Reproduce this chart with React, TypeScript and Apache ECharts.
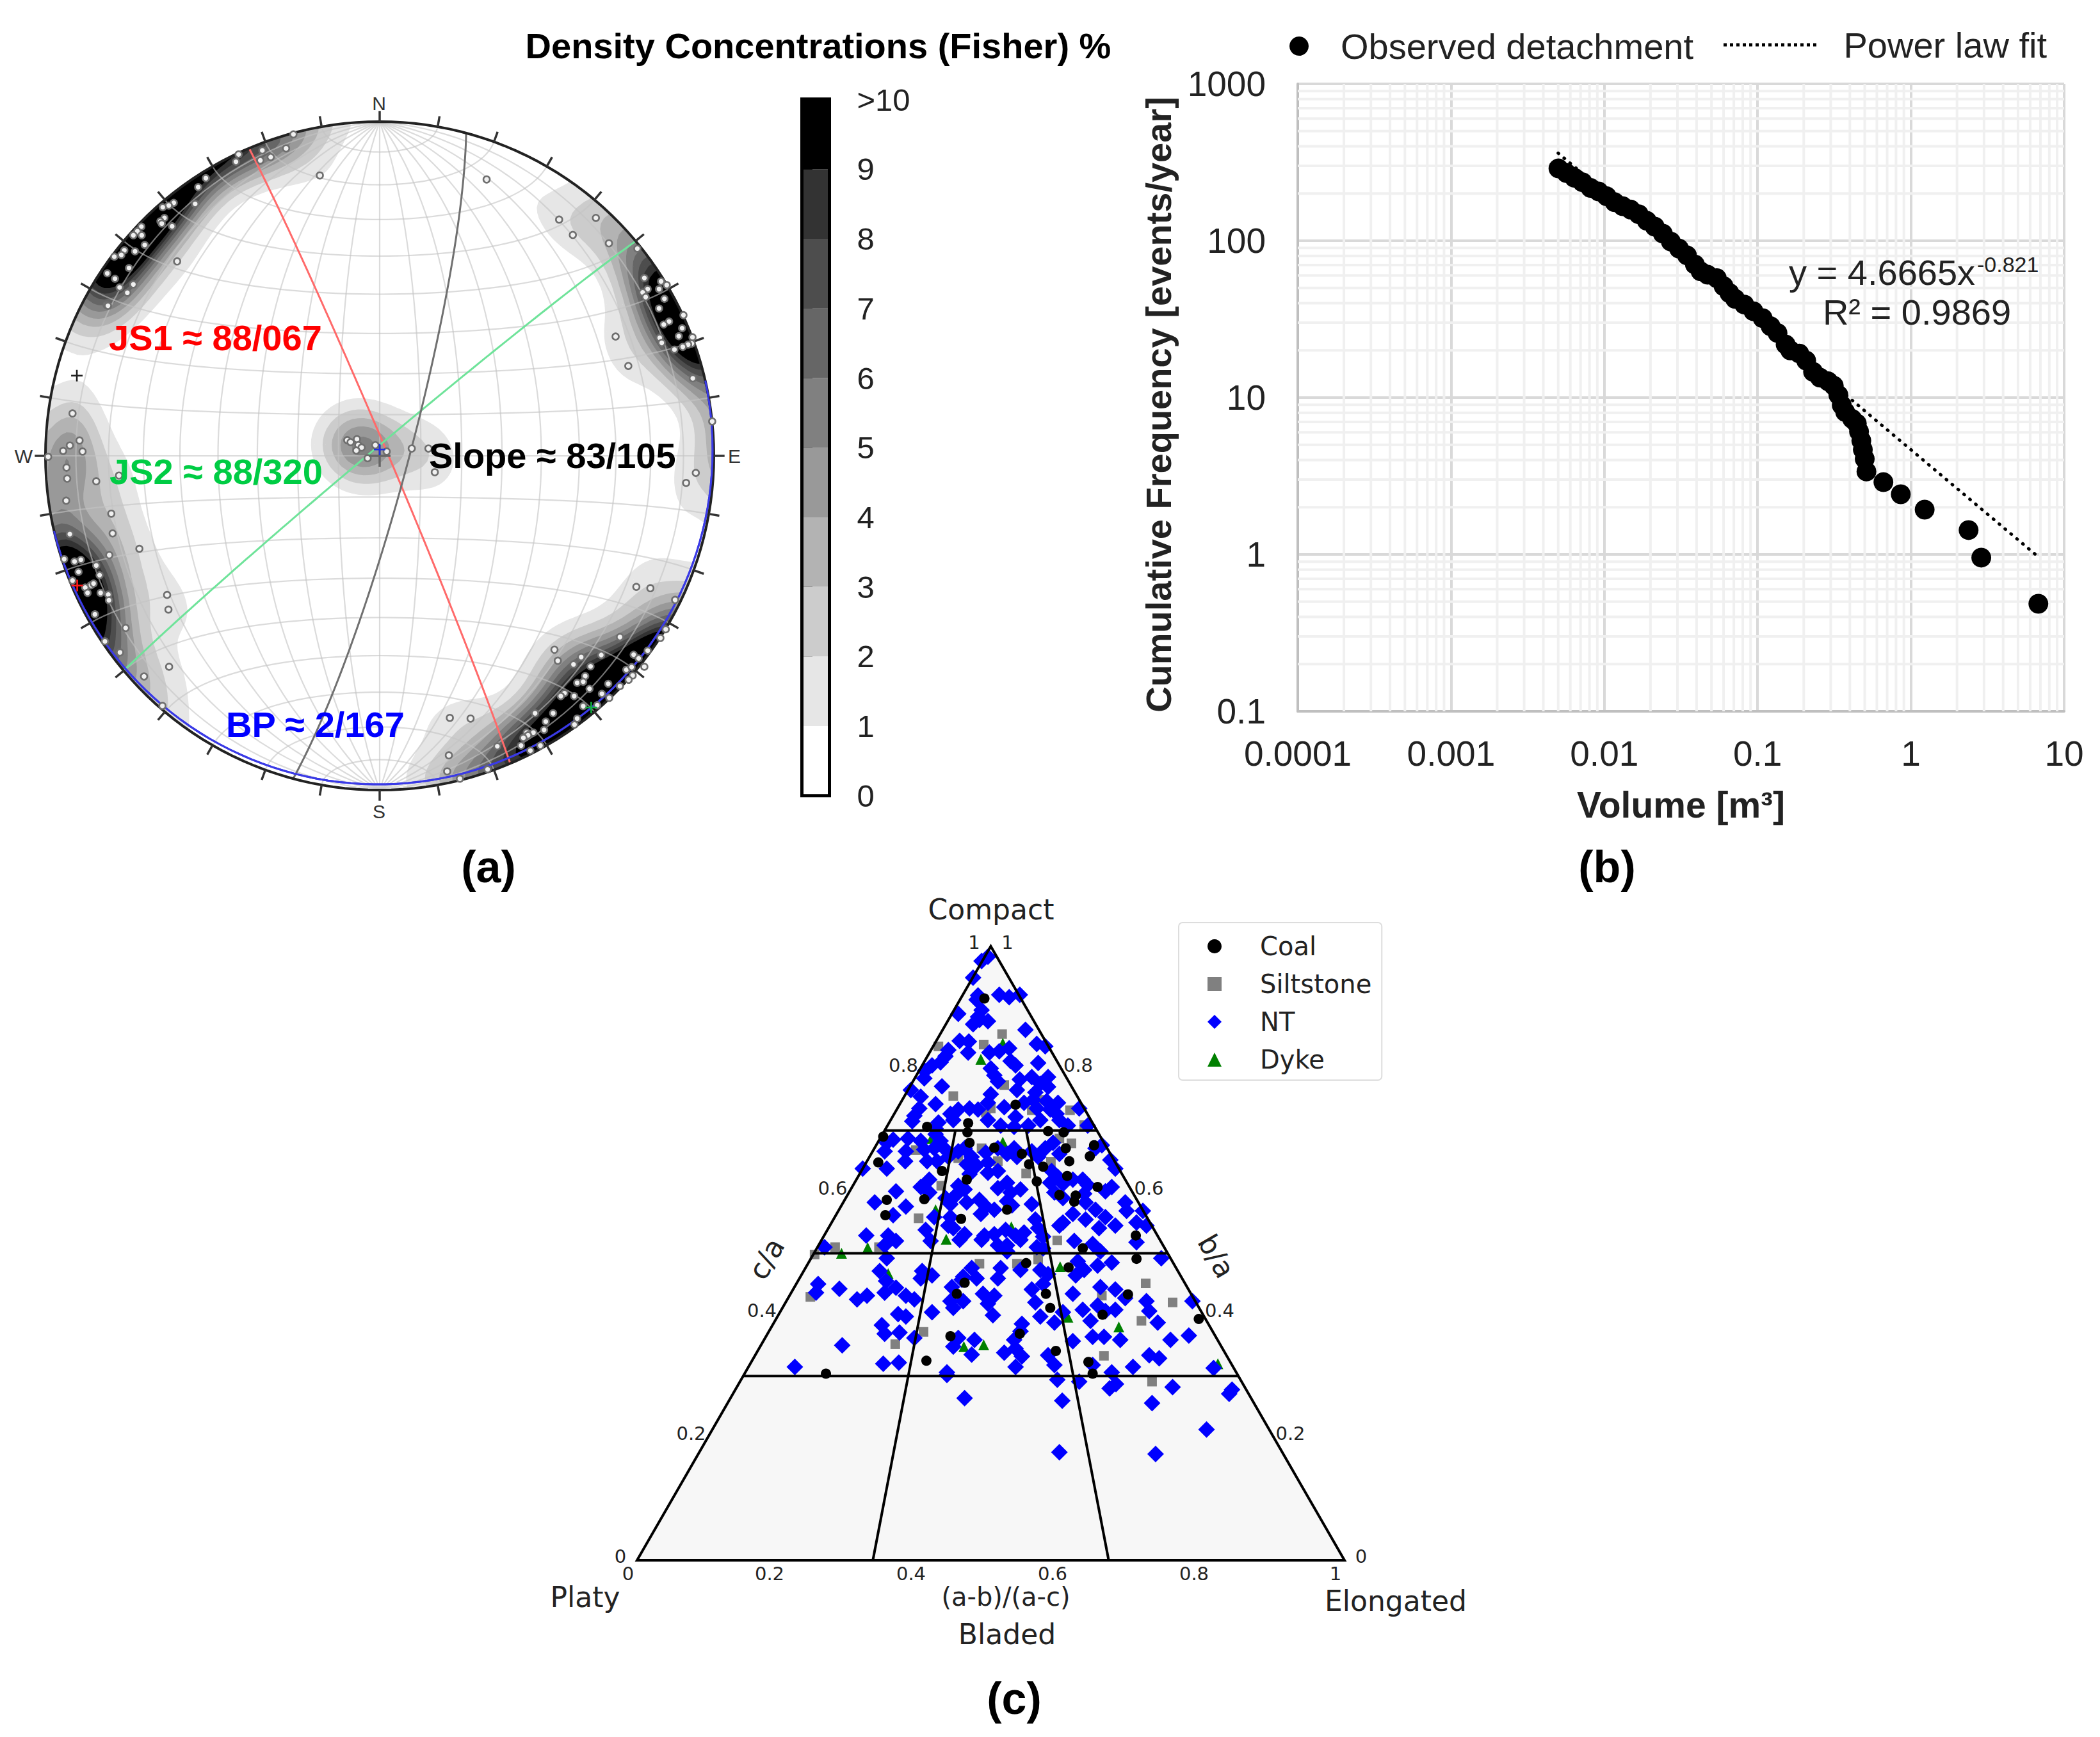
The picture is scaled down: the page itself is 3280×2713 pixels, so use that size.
import React, { useEffect, useRef } from "react";
import * as echarts from "echarts";

// ---------- (a) stereonet data: unit-disc positions of the poles ----------
const polesA: number[][] = [
  [-.258,.962],[-.280,.920],[-.351,.914],[-.326,.894],[-.357,.884],[-.422,.902],[-.430,.880],[-.520,.831],[-.543,.804],[-.552,.754],
  [-.616,.757],[-.631,.749],[-.649,.744],[-.644,.712],[-.656,.702],[-.652,.695],[-.621,.687],[-.713,.686],[-.725,.672],[-.737,.660],
  [-.712,.660],[-.703,.631],[-.732,.612],[-.764,.615],[-.773,.601],[-.794,.596],[-.750,.562],[-.815,.546],[-.792,.530],[-.778,.504],
  [-.737,.513],[-.755,.488],[-.817,.451],[-.813,.449],[-.606,.582],[-.179,.839],
  [-.919,.127],[-.898,.046],[-.927,.031],[-.947,.015],[-.889,.013],[-.992,-.003],[-.937,-.035],[-.935,-.068],[-.848,-.076],[-.780,-.059],
  [-.938,-.134],[-.803,-.173],[-.799,-.232],[-.927,-.234],[-.719,-.278],[-.809,-.297],[-.944,-.309],[-.913,-.316],[-.894,-.311],[-.848,-.328],
  [-.901,-.347],[-.838,-.357],[-.919,-.373],[-.864,-.387],[-.856,-.382],[-.881,-.394],[-.874,-.410],[-.835,-.410],[-.812,-.415],[-.810,-.432],
  [-.852,-.474],[-.636,-.416],[-.632,-.460],[-.760,-.515],[-.777,-.588],[-.822,-.555],[-.630,-.631],[-.705,-.660],[-.650,-.748],
  [-.097,.047],[-.087,.041],[-.068,.050],[-.064,.032],[-.054,.025],[-.070,.016],[-.013,.032],[.021,.013],[-.036,-.007],[.096,.022],[.146,.022],[.165,-.049],
  [.320,.827],[.537,.707],[.647,.712],[.578,.661],[.686,.636],[.771,.620],[.792,.532],[.842,.522],[.859,.511],[.836,.499],[.802,.499],[.787,.489],
  [.796,.475],[.852,.470],[.836,.441],[.909,.421],[.866,.402],[.850,.393],[.905,.382],[.895,.358],[.936,.355],[.838,.353],[.844,.338],[.934,.336],
  [.923,.333],[.907,.326],[.882,.318],[.706,.357],[.744,.269],[.937,.232],[.995,.103],
  [.946,-.051],[.917,-.081],[.768,-.392],[.810,-.396],[.884,-.431],[.719,-.542],[.523,-.580],[.533,-.613],[.603,-.602],[.580,-.624],[.663,-.596],
  [.631,-.630],[.760,-.595],[.775,-.606],[.802,-.583],[.840,-.545],[.856,-.519],[.738,-.640],[.754,-.632],[.757,-.657],[.745,-.670],[.615,-.659],
  [.591,-.679],[.609,-.676],[.684,-.682],[.628,-.697],[.553,-.710],[.542,-.719],[.582,-.719],[.665,-.712],[.687,-.724],[.609,-.749],[.651,-.746],
  [.519,-.770],[.465,-.770],[.591,-.786],[.497,-.795],[.583,-.804],[.492,-.820],[.440,-.828],[.460,-.828],[.444,-.836],[.430,-.844],[.423,-.867],
  [.481,-.867],[.451,-.882],[.352,-.869],[.323,-.938],[.210,-.784],[.272,-.786],[.207,-.896],[.202,-.944],[.240,-.966],[.719,-.689],[.792,-.631],
];
const planeNames = ["JS1", "JS2", "Slope", "BP"];
const planeDips = [88, 88, 83, 2];
const planeDipDirs = [67, 320, 105, 167];
const planeColors = ["#ff6a6a", "#6fe39a", "#707070", "#3a3ae6"];
const netAngles = [10, 20, 30, 40, 50, 60, 70, 80];
const levelColors = ["#e6e6e6", "#cccccc", "#b3b3b3", "#999999", "#808080", "#666666", "#4d4d4d", "#333333", "#000000"];
const levels = [1, 2, 3, 4, 5, 6, 7, 8, 9];
const colorbarBands = [0, 1, 2, 3, 4, 5, 6, 7, 8, 9];
const colorbarFill = ["#ffffff", ...levelColors];
const colorbarLabels = ["0", "1", "2", "3", "4", "5", "6", "7", "8", "9", ">10"];
const planeMarks: [number, number, string][] = [[-.906, .240, "#222222"], [-.905, -.388, "#ff1a1a"], [.633, -.753, "#10b040"], [0, .019, "#2030e0"]];

// ---------- (b) rockfall frequency data ----------
const volumeValues = [.00502,.00566,.00638,.00721,.00813,.00918,.01035,.01167,.01318,.01486,.01678,.01892,.02133,.0241,.0272,.0307,.0346,.0390,.0425,.0472,.0542,.0600,.0655,.0713,.0819,.0940,.1079,.1216,.1349,.1524,.1633,.1871,.2075,.2301,.2553,.2884,.3141,.3365,.354,.373,.414,.444,.459,.475,.486,.500,.513,.662,.859,1.23,2.38,2.88,6.79];
const frequencyValues = [289,270,252,236,217,206,192,176,166,158,147.5,134,123,111,98.7,89.1,80.7,70.5,63.8,60.7,57.7,51.3,46.4,42.6,39.2,35.5,32.1,28.5,25.8,21.8,20.0,19.1,17.2,14.6,13.4,12.7,11.9,10.4,8.95,8.09,7.31,6.84,6.08,5.32,4.66,4.07,3.38,2.89,2.42,1.93,1.43,.955,.485];
const fitLine = [[.005, 362], [6.5, 1.0]];
const xDecades = ["0.0001", "0.001", "0.01", "0.1", "1", "10"];
const yDecades = ["0.1", "1", "10", "100", "1000"];
const minorFactors = [2, 3, 4, 5, 6, 7, 8, 9];

// ---------- (c) ternary shape data: [(a-b)/(a-c), c/a] ----------
const ntPoints: number[][] = [
  [.496,.983],[.487,.976],[.475,.949],[.482,.920],[.512,.921],[.526,.917],[.541,.921],[.480,.913],[.487,.896],[.454,.890],[.482,.885],[.496,.878],[.475,.873],[.484,.880],[.549,.864],
  [.456,.846],[.469,.845],[.565,.841],[.577,.837],[.468,.827],[.440,.831],[.436,.821],[.429,.811],[.417,.806],[.407,.797],[.406,.785],[.526,.834],[.512,.829],[.498,.827],
  [.528,.813],[.535,.806],[.567,.810],[.500,.801],[.505,.790],[.510,.780],[.541,.783],[.558,.787],[.581,.787],[.537,.766],[.581,.771],[.563,.762],[.570,.776],
  [.431,.772],[.387,.766],[.401,.755],[.422,.743],[.399,.736],[.392,.724],[.389,.715],[.500,.759],[.496,.745],[.519,.738],[.547,.745],[.560,.750],[.565,.736],[.579,.748],[.595,.745],[.584,.734],
  [.443,.727],[.454,.734],[.470,.736],[.482,.734],[.447,.717],[.426,.713],[.422,.703],[.535,.722],[.496,.717],[.514,.708],[.533,.706],[.553,.708],[.593,.727],[.597,.717],[.609,.708],[.625,.736],[.637,.708],[.570,.717],
  [.353,.680],[.362,.685],[.350,.666],[.383,.687],[.401,.683],[.406,.669],[.380,.666],[.379,.650],[.319,.638],[.353,.638],[.422,.694],[.429,.683],[.420,.671],[.436,.669],[.410,.650],[.424,.650],[.440,.657],
  [.463,.671],[.454,.666],[.473,.657],[.466,.645],[.480,.643],[.470,.629],[.493,.664],[.510,.671],[.523,.662],[.496,.648],[.510,.634],[.496,.631],[.533,.671],[.537,.657],
  [.558,.666],[.577,.671],[.588,.680],[.567,.657],[.597,.662],[.648,.671],[.657,.676],[.669,.652],[.676,.638],[.586,.634],[.595,.624],[.584,.615],[.602,.613],[.616,.620],[.630,.620],[.637,.611],[.590,.599],[.602,.590],[.671,.608],[.662,.601],[.632,.597],[.634,.583],
  [.413,.620],[.401,.608],[.413,.599],[.366,.601],[.336,.583],[.380,.576],[.454,.610],[.463,.604],[.450,.594],[.436,.590],[.466,.583],[.443,.580],[.443,.559],[.420,.559],[.362,.562],
  [.484,.587],[.493,.576],[.510,.606],[.523,.615],[.528,.599],[.542,.604],[.558,.580],[.523,.585],[.486,.564],[.505,.571],[.530,.578],
  [.690,.583],[.692,.569],[.715,.569],[.616,.564],[.648,.571],[.662,.559],[.634,.555],[.676,.545],[.653,.541],[.706,.550],[.720,.545],[.602,.550],[.597,.545],
  [.563,.555],[.567,.541],[.574,.527],[.521,.538],[.535,.529],[.547,.534],[.491,.529],[.505,.531],[.487,.522],[.523,.513],[.440,.545],[.447,.541],[.456,.522],[.408,.538],[.415,.520],[.463,.531],
  [.324,.529],[.355,.529],[.366,.520],[.350,.513],[.265,.510],[.618,.520],[.644,.515],[.655,.503],[.706,.518],[.565,.510],[.574,.508],[.510,.513],[.523,.503],[.542,.522],
  [.353,.492],[.741,.492],[.671,.485],[.651,.480],[.623,.487],[.632,.473],[.620,.464],[.570,.473],[.581,.466],[.542,.473],[.514,.476],[.510,.459],[.473,.476],[.480,.459],[.461,.462],[.417,.464],[.403,.471],[.401,.459],[.343,.471],
  [.256,.450],[.253,.436],[.286,.442],[.311,.425],[.325,.431],[.350,.436],[.352,.455],[.366,.444],[.380,.431],[.392,.425],[.445,.445],[.459,.457],[.505,.431],[.489,.434],[.496,.418],[.443,.422],[.461,.422],[.447,.411],[.417,.404],[.369,.401],[.380,.397],
  [.558,.441],[.574,.450],[.563,.420],[.570,.397],[.590,.387],[.602,.404],[.616,.434],[.655,.445],[.676,.441],[.690,.427],[.651,.415],[.676,.408],[.630,.408],[.641,.390],[.662,.406],[.720,.422],[.724,.406],[.736,.387],[.785,.422],[.503,.399],
  [.346,.383],[.350,.369],[.371,.371],[.392,.362],[.290,.350],[.544,.385],[.542,.373],[.533,.359],[.535,.345],[.616,.357],[.644,.364],[.660,.364],[.683,.359],[.754,.359],[.780,.366],
  [.454,.362],[.477,.359],[.447,.348],[.473,.335],[.519,.338],[.544,.332],[.581,.334],[.724,.334],[.738,.329],[.223,.315],[.348,.320],[.370,.322],[.535,.315],[.590,.318],[.701,.315],[.815,.313],[.438,.306],[.644,.318],[.671,.306],
  [.438,.302],[.594,.294],[.677,.287],[.668,.280],[.757,.282],[.841,.278],[.837,.271],[.601,.260],[.463,.264],[.728,.256],[.805,.213],[.597,.176],[.733,.173],[.625,.291],
];
const coalPoints: number[][] = [
  [.491,.915],[.535,.742],[.468,.712],[.467,.697],[.410,.706],[.581,.699],[.603,.697],[.348,.690],[.470,.680],[.505,.672],[.606,.671],[.646,.676],[.640,.658],[.341,.648],[.554,.645],[.574,.641],[.611,.650],[.608,.626],[.565,.617],[.651,.608],[.597,.595],[.353,.587],[.406,.588],[.620,.594],[.618,.584],[.351,.562],[.458,.556],[.466,.620],[.523,.571],[.705,.529],[.630,.508],[.706,.491],[.550,.484],[.610,.477],[.463,.452],[.452,.434],[.578,.434],[.584,.411],[.694,.433],[.658,.400],[.794,.393],[.443,.365],[.541,.369],[.592,.341],[.409,.325],[.638,.323],[.267,.304],[.644,.304],[.431,.634],[.544,.662],
];
const siltstonePoints: number[][] = [
  [.516,.857],[.490,.840],[.426,.837],[.519,.774],[.447,.756],[.500,.736],[.493,.729],[.558,.733],[.612,.733],[.572,.750],[.632,.709],[.597,.687],[.614,.679],[.394,.668],[.487,.671],[.510,.650],[.585,.649],[.550,.630],[.454,.655],[.430,.610],[.398,.557],[.594,.521],[.280,.510],[.342,.510],[.251,.498],[.567,.490],[.484,.483],[.719,.451],[.657,.431],[.245,.429],[.757,.420],[.713,.390],[.405,.372],[.365,.352],[.660,.333],[.537,.483],[.728,.291],
];
const dykePoints: number[][] = [
  [.486,.816],[.517,.842],[.517,.681],[.416,.687],[.422,.571],[.437,.523],[.529,.543],[.326,.509],[.289,.500],[.598,.478],[.355,.467],[.499,.427],[.609,.396],[.681,.380],[.490,.351],[.462,.348],[.821,.320],
];
const flatnessLimits = [0.3, 0.5, 0.7];
const elongationLimits = [1 / 3, 2 / 3];
const ternaryTicks = [0, 0.2, 0.4, 0.6, 0.8, 1];

// ---------- geometry helpers ----------
const rad = Math.PI / 180;
const project = (e: number, n: number, z: number) => {
  const k = Math.sqrt(1 / (1 + Math.abs(z)));
  return [e * k, n * k];
};
function greatCircle(dip: number, dipDir: number) {
  const d = dip * rad, a = dipDir * rad, s = a - Math.PI / 2;
  const pts: number[][] = [];
  for (let t = 0; t <= 180; t += 2) {
    const c = Math.cos(t * rad), si = Math.sin(t * rad);
    pts.push(project(Math.sin(s) * c + Math.sin(a) * Math.cos(d) * si, Math.cos(s) * c + Math.cos(a) * Math.cos(d) * si, Math.sin(d) * si));
  }
  return pts;
}
function smallCircle(alpha: number, north: number) {
  const al = alpha * rad;
  const pts: number[][] = [];
  for (let f = 0; f <= 180; f += 3) {
    pts.push(project(Math.sin(al) * Math.cos(f * rad), north * Math.cos(al), Math.sin(al) * Math.sin(f * rad)));
  }
  return pts;
}
const netCurves: number[][][] = [];
netAngles.forEach((a) => {
  netCurves.push(greatCircle(a, 90), greatCircle(a, 270), smallCircle(a, 1), smallCircle(a, -1));
});
netCurves.push(greatCircle(90, 90), smallCircle(90, 1));

const toSphere = (x: number, y: number) => {
  let r = Math.hypot(x, y);
  if (r > 1) { x /= r; y /= r; r = 1; }
  if (r < 1e-9) return [0, 0, 1];
  const th = 2 * Math.asin(r / Math.SQRT2);
  return [Math.sin(th) * x / r, Math.sin(th) * y / r, Math.cos(th)];
};
const KAPPA = 85, DENSITY_SCALE = 0.66;
const GRID_N = 130, GRID_EDGE = 1.05;
const poleVecs = polesA.map((p) => toSphere(p[0], p[1]));
const field: number[][] = [];
for (let j = 0; j <= GRID_N; j++) {
  const row: number[] = [];
  const y = -GRID_EDGE + 2 * GRID_EDGE * j / GRID_N;
  for (let i = 0; i <= GRID_N; i++) {
    const x = -GRID_EDGE + 2 * GRID_EDGE * i / GRID_N;
    if (Math.hypot(x, y) > 1.04) { row.push(-1); continue; }
    const q = toSphere(x, y);
    let sum = 0;
    for (const v of poleVecs) {
      const c = Math.abs(q[0] * v[0] + q[1] * v[1] + q[2] * v[2]);
      sum += Math.exp(KAPPA * (c - 1));
    }
    row.push(sum * DENSITY_SCALE);
  }
  field.push(row);
}
function contourPath(level: number, coord: (p: number[]) => number[]) {
  const step = 2 * GRID_EDGE / GRID_N;
  const X = (i: number) => -GRID_EDGE + i * step;
  let d = "";
  const emit = (poly: number[][]) => {
    poly.forEach((p, k) => {
      const c = coord(p);
      d += (k ? "L" : "M") + c[0].toFixed(1) + " " + c[1].toFixed(1);
    });
    d += "Z";
  };
  for (let j = 0; j < GRID_N; j++) {
    let run = -1;
    for (let i = 0; i <= GRID_N; i++) {
      const inside = i < GRID_N && field[j][i] >= level && field[j][i + 1] >= level && field[j + 1][i] >= level && field[j + 1][i + 1] >= level;
      if (inside) { if (run < 0) run = i; continue; }
      if (run >= 0) {
        emit([[X(run), X(j)], [X(i), X(j)], [X(i), X(j + 1)], [X(run), X(j + 1)]]);
        run = -1;
      }
      if (i === GRID_N) continue;
      const corners = [[i, j], [i + 1, j], [i + 1, j + 1], [i, j + 1]];
      const vals = corners.map((c) => field[c[1]][c[0]]);
      if (vals.every((v) => v < level)) continue;
      const poly: number[][] = [];
      for (let k = 0; k < 4; k++) {
        const n = (k + 1) % 4;
        const a = corners[k], b = corners[n], va = vals[k], vb = vals[n];
        if (va >= level) poly.push([X(a[0]), X(a[1])]);
        if ((va >= level) !== (vb >= level)) {
          const t = (level - va) / (vb - va);
          poly.push([X(a[0] + (b[0] - a[0]) * t), X(a[1] + (b[1] - a[1]) * t)]);
        }
      }
      if (poly.length > 2) emit(poly);
    }
  }
  return d;
}

// ---------- layout ----------
const ARIAL = "'Liberation Sans', Arial, sans-serif";
const DEJAVU = "'DejaVu Sans', sans-serif";
const T = (text: string, x: number, y: number, size: number, o: any = {}) => ({
  type: "text", x, y, rotation: o.rotation || 0, silent: true, z: 60,
  style: {
    text, fill: o.color || "#222222", fontFamily: o.family || ARIAL, fontSize: size, fontWeight: o.weight || "normal",
    align: o.align || "center", verticalAlign: "middle", textAlign: o.align || "center", textVerticalAlign: "middle",
  },
});

const texts: any[] = [
  T("Density Concentrations (Fisher) %", 1278, 71, 56, { weight: "bold", color: "#000" }),
  T("N", 592, 161, 30, { color: "#333" }), T("S", 592, 1267, 30, { color: "#333" }),
  T("W", 37, 712, 30, { color: "#333" }), T("E", 1147, 712, 30, { color: "#333" }),
  T("JS1 \u2248 88/067", 170, 527, 56, { weight: "bold", color: "#ff0000", align: "left" }),
  T("JS2 \u2248 88/320", 171, 736, 56, { weight: "bold", color: "#00cc44", align: "left" }),
  T("BP \u2248 2/167", 353, 1131, 56, { weight: "bold", color: "#0000ff", align: "left" }),
  T("Slope \u2248 83/105", 670, 711, 56, { weight: "bold", color: "#000", align: "left" }),
  T("y = 4.6665x", 2794, 425, 56, { align: "left" }),
  T("-0.821", 3088, 413, 34, { align: "left" }),
  T("R\u00B2 = 0.9869", 2994, 487, 56),
  T("(a)", 763, 1354, 70, { weight: "bold", color: "#000" }),
  T("(b)", 2510, 1354, 70, { weight: "bold", color: "#000" }),
  T("(c)", 1584, 2653, 70, { weight: "bold", color: "#000" }),
  T("Compact", 1548, 1420, 44, { family: DEJAVU }),
  T("Platy", 914, 2494, 44, { family: DEJAVU }),
  T("Elongated", 2180, 2500, 44, { family: DEJAVU }),
  T("(a-b)/(a-c)", 1571, 2494, 40, { family: DEJAVU }),
  T("Bladed", 1573, 2552, 44, { family: DEJAVU }),
  T("c/a", 1197, 1966, 44, { family: DEJAVU, rotation: Math.PI / 3 }),
  T("b/a", 1900, 1962, 44, { family: DEJAVU, rotation: -Math.PI / 3 }),
];
const TX0 = 995, TW = 1105, TY0 = 2437, TH = 959;
ternaryTicks.forEach((v) => {
  const label = String(v);
  const ex = TX0 + v * TW / 2, ey = TY0 - v * TH;
  texts.push(T(label, ex - 26, ey - 6, 29, { family: DEJAVU }));
  texts.push(T(label, TX0 + TW - v * TW / 2 + 26, ey - 6, 29, { family: DEJAVU }));
  texts.push(T(label, TX0 + v * TW - 14, TY0 + 21, 29, { family: DEJAVU }));
});

const stereoAxis = { gridIndex: 0, type: "value", min: -1, max: 1, show: false };

const lineEl = (a: number[], b: number[], color: string, w: number) => ({
  type: "line", shape: { x1: a[0], y1: a[1], x2: b[0], y2: b[1] }, style: { stroke: color, lineWidth: w, fill: "none" },
});
const polyEl = (pts: number[][], color: string, w: number) => ({
  type: "polyline", shape: { points: pts }, style: { stroke: color, lineWidth: w, fill: "none" },
});
const stereoSeries = (name: string, data: any[], renderItem: any, z: number) => ({
  name, type: "custom", coordinateSystem: "cartesian2d", xAxisIndex: 0, yAxisIndex: 0, data, renderItem, z, silent: true,
});

const primitive: number[][] = [];
for (let a = 0; a <= 360; a += 2) primitive.push([Math.sin(a * rad), Math.cos(a * rad)]);
const tickAngles: number[] = [];
for (let a = 0; a < 360; a += 10) tickAngles.push(a);

// legend glyph for the dotted fit: a row of square dots, 10 units apart
let dottedIcon = "path://";
for (let i = 0; i < 15; i++) dottedIcon += `M${i * 10} 0h5v5h-5z`;

const option: any = {
  animation: false,
  backgroundColor: "#ffffff",
  grid: [
    { left: 71, top: 190, width: 1044, height: 1044 },
    { left: 1252.5, top: 155.7, width: 43, height: 1087 },
    { left: 2027, top: 131, width: 1197, height: 980 },
    { left: TX0, top: TY0 - TH, width: TW, height: TH },
  ],
  xAxis: [
    stereoAxis,
    { gridIndex: 1, type: "value", min: 0, max: 1, show: false },
    {
      gridIndex: 2, type: "log", logBase: 10, min: 0.0001, max: 10,
      axisLine: { show: true, lineStyle: { color: "#bfbfbf", width: 4 } }, axisTick: { show: false },
      splitLine: { show: true, lineStyle: { color: "#d9d9d9", width: 4 } },
      axisLabel: {
        fontFamily: ARIAL, fontSize: 55, color: "#222", margin: 38, showMinLabel: true, showMaxLabel: true, hideOverlap: false,
        formatter: (v: number) => xDecades[Math.round(Math.log10(v)) + 4],
      },
      name: "Volume [m\u00B3]", nameLocation: "middle", nameGap: 117,
      nameTextStyle: { fontFamily: ARIAL, fontSize: 57, fontWeight: "bold", color: "#222" },
    },
    { gridIndex: 3, type: "value", min: 0, max: 1, show: false },
  ],
  yAxis: [
    stereoAxis,
    {
      gridIndex: 1, type: "value", min: 0, max: 10, interval: 1, position: "right",
      axisLine: { show: false }, axisTick: { show: true, length: 16.5, lineStyle: { color: "#000", width: 2.5 } },
      splitLine: { show: false },
      axisLabel: {
        fontFamily: ARIAL, fontSize: 49, color: "#222", margin: 43, showMinLabel: true, showMaxLabel: true,
        formatter: (v: number) => colorbarLabels[Math.round(v)],
      },
    },
    {
      gridIndex: 2, type: "log", logBase: 10, min: 0.1, max: 1000,
      axisLine: { show: true, lineStyle: { color: "#bfbfbf", width: 4 } }, axisTick: { show: false },
      splitLine: { show: true, lineStyle: { color: "#d9d9d9", width: 4 } },
      axisLabel: {
        fontFamily: ARIAL, fontSize: 55, color: "#222", margin: 50, showMinLabel: true, showMaxLabel: true,
        formatter: (v: number) => yDecades[Math.round(Math.log10(v)) + 1],
      },
      name: "Cumulative Frequency [events/year]", nameLocation: "middle", nameRotate: 90, nameGap: 190,
      nameTextStyle: { fontFamily: ARIAL, fontSize: 56, fontWeight: "bold", color: "#222", padding: [0, 22, 0, 0] },
    },
    { gridIndex: 3, type: "value", min: 0, max: 1, show: false },
  ],
  legend: [
    {
      data: ["Observed detachment"], left: 2014, top: 44, itemWidth: 120, itemHeight: 30, selectedMode: false, padding: 0,
      textStyle: { fontFamily: ARIAL, fontSize: 56, color: "#222" }, icon: "circle",
    },
    {
      data: [{ name: "Power law fit", icon: dottedIcon }], left: 2692, top: 42, itemWidth: 146, itemHeight: 5, selectedMode: false, padding: 0,
      itemStyle: { color: "#000", borderWidth: 0 },
      textStyle: { fontFamily: ARIAL, fontSize: 56, color: "#222", padding: [4, 0, 0, 37] },
    },
    {
      data: ["Coal", "Siltstone", "NT", "Dyke"], orient: "vertical", left: 1841, top: 1441, itemWidth: 22, itemHeight: 22, itemGap: 19,
      selectedMode: false, padding: [17, 16, 12, 45], backgroundColor: "#ffffff", borderColor: "#dddddd", borderWidth: 2, borderRadius: 6,
      textStyle: { fontFamily: DEJAVU, fontSize: 40, color: "#222", padding: [0, 0, 0, 55] },
    },
  ],
  graphic: { elements: texts },
  series: [
    // (a) density
    stereoSeries("density", levels.map((l) => [l, 0]), (params: any, api: any) => {
      const lv = levels[params.dataIndex];
      return {
        type: "path",
        shape: { pathData: contourPath(lv, (p) => api.coord(p)) },
        style: { fill: levelColors[params.dataIndex], stroke: "none" },
      };
    }, 1),
    stereoSeries("mask", [[0, 0]], (_p: any, api: any) => {
      const c = api.coord([0, 0]), e = api.coord([1, 0]);
      const R = e[0] - c[0];
      return { type: "circle", shape: { cx: c[0], cy: c[1], r: R + 30 }, style: { fill: "none", stroke: "#ffffff", lineWidth: 60 } };
    }, 2),
    stereoSeries("net", netCurves.map((_c, i) => [i, 0]), (params: any, api: any) =>
      polyEl(netCurves[params.dataIndex].map((p) => api.coord(p)), "rgba(195,195,195,0.6)", 2.2), 3),
    stereoSeries("planes", planeNames.map((_n, i) => [i, 0]), (params: any, api: any) => {
      const i = params.dataIndex;
      return polyEl(greatCircle(planeDips[i], planeDipDirs[i]).map((p) => api.coord(p)), planeColors[i], 3);
    }, 5),
    stereoSeries("primitive", [[0, 0]], (_p: any, api: any) => ({
      type: "group",
      children: [polyEl(primitive.map((p) => api.coord(p)), "#222222", 4), polyEl(greatCircle(planeDips[3], planeDipDirs[3]).map((p) => api.coord(p)), planeColors[3], 3)],
    }), 6),
    stereoSeries("ticks", tickAngles.map((a) => [a, 0]), (params: any, api: any) => {
      const a = tickAngles[params.dataIndex] * rad;
      return lineEl(api.coord([Math.sin(a), Math.cos(a)]), api.coord([1.032 * Math.sin(a), 1.032 * Math.cos(a)]), "#333333", 3.5);
    }, 6),
    {
      name: "poles", type: "scatter", xAxisIndex: 0, yAxisIndex: 0, data: polesA, symbol: "circle", symbolSize: 10, z: 7, silent: true,
      itemStyle: { color: "#f0f0f0", borderColor: "#6e6e6e", borderWidth: 2.6, opacity: 1 },
    },
    stereoSeries("centre", [[0, 0]], (_p: any, api: any) => {
      const c = api.coord([0, 0]);
      return { type: "group", children: [lineEl([c[0] - 17, c[1]], [c[0] + 17, c[1]], "#666666", 3.5), lineEl([c[0], c[1] - 17], [c[0], c[1] + 17], "#666666", 3.5)] };
    }, 8),
    stereoSeries("marks", planeMarks.map((m) => [m[0], m[1]]), (params: any, api: any) => {
      const m = planeMarks[params.dataIndex];
      const c = api.coord([m[0], m[1]]);
      return { type: "group", children: [lineEl([c[0] - 9, c[1]], [c[0] + 9, c[1]], m[2], 2.6), lineEl([c[0], c[1] - 9], [c[0], c[1] + 9], m[2], 2.6)] };
    }, 9),
    // colour bar
    {
      name: "bands", type: "custom", coordinateSystem: "cartesian2d", xAxisIndex: 1, yAxisIndex: 1, silent: true, z: 2,
      data: colorbarBands.map((b) => [0, b]),
      renderItem: (params: any, api: any) => {
        const b = colorbarBands[params.dataIndex];
        const a = api.coord([0, b + 1]), c = api.coord([1, b]);
        return { type: "rect", shape: { x: a[0], y: a[1], width: c[0] - a[0], height: c[1] - a[1] }, style: { fill: colorbarFill[b], stroke: "none" } };
      },
    },
    {
      name: "bandFrame", type: "custom", coordinateSystem: "cartesian2d", xAxisIndex: 1, yAxisIndex: 1, silent: true, z: 3,
      data: [[0, 0]],
      renderItem: (_p: any, api: any) => {
        const a = api.coord([0, 10]), c = api.coord([1, 0]);
        return { type: "rect", shape: { x: a[0], y: a[1] - 1, width: c[0] - a[0], height: c[1] - a[1] + 1 }, style: { fill: "none", stroke: "#000", lineWidth: 5 } };
      },
    },
    // (b) minor grid lines
    {
      name: "minorGrid", type: "custom", coordinateSystem: "cartesian2d", xAxisIndex: 2, yAxisIndex: 2, silent: true, z: 1,
      data: [[1, 1]],
      renderItem: (_p: any, api: any) => {
        const children: any[] = [];
        xDecades.slice(0, -1).forEach((d) => minorFactors.forEach((f) => {
          const v = Number(d) * f;
          children.push(lineEl(api.coord([v, 0.1]), api.coord([v, 1000]), "#f0f0f0", 4));
        }));
        yDecades.slice(0, -1).forEach((d) => minorFactors.forEach((f) => {
          const v = Number(d) * f;
          children.push(lineEl(api.coord([0.0001, v]), api.coord([10, v]), "#f0f0f0", 4));
        }));
        return { type: "group", children };
      },
    },
    {
      name: "Power law fit", type: "line", xAxisIndex: 2, yAxisIndex: 2, data: fitLine, symbol: "none", silent: true, z: 4,
      itemStyle: { color: "#000" }, lineStyle: { color: "#000", width: 5, type: [1, 11], cap: "round" },
    },
    {
      name: "Observed detachment", type: "scatter", xAxisIndex: 2, yAxisIndex: 2, silent: true, z: 5,
      data: volumeValues.map((v, i) => [v, frequencyValues[i]]), symbol: "circle", symbolSize: 31, itemStyle: { color: "#000", opacity: 1 },
    },
    // (c) ternary
    {
      name: "ternaryFill", type: "custom", coordinateSystem: "cartesian2d", xAxisIndex: 3, yAxisIndex: 3, silent: true, z: 1,
      data: [[0, 0]],
      renderItem: (_p: any, api: any) => ({
        type: "polygon", shape: { points: [[0, 0], [1, 0], [0.5, 1]].map((p) => api.coord(p)) }, style: { fill: "#f7f7f7", stroke: "none" },
      }),
    },
    { name: "Siltstone", type: "scatter", xAxisIndex: 3, yAxisIndex: 3, data: siltstonePoints, symbol: "rect", symbolSize: 15, silent: true, z: 2, itemStyle: { color: "#808080", opacity: 1 } },
    { name: "Dyke", type: "scatter", xAxisIndex: 3, yAxisIndex: 3, data: dykePoints, symbol: "triangle", symbolSize: 17, silent: true, z: 2, itemStyle: { color: "#008000", opacity: 1 } },
    { name: "NT", type: "scatter", xAxisIndex: 3, yAxisIndex: 3, data: ntPoints, symbol: "diamond", symbolSize: 26, silent: true, z: 3, itemStyle: { color: "#0000ff", opacity: 1 } },
    { name: "Coal", type: "scatter", xAxisIndex: 3, yAxisIndex: 3, data: coalPoints, symbol: "circle", symbolSize: 16, silent: true, z: 4, itemStyle: { color: "#000000", opacity: 1 } },
    {
      name: "ternaryLines", type: "custom", coordinateSystem: "cartesian2d", xAxisIndex: 3, yAxisIndex: 3, silent: true, z: 5,
      data: [[0, 0]],
      renderItem: (_p: any, api: any) => {
        const children: any[] = [{
          type: "polygon", shape: { points: [[0, 0], [1, 0], [0.5, 1]].map((p) => api.coord(p)) },
          style: { fill: "none", stroke: "#000", lineWidth: 4 },
        }];
        flatnessLimits.forEach((h) => children.push(lineEl(api.coord([h / 2, h]), api.coord([1 - h / 2, h]), "#000", 4)));
        const top = flatnessLimits[2];
        elongationLimits.forEach((x) => children.push(lineEl(api.coord([x, 0]), api.coord([x + (0.5 - x) * top, top]), "#000", 4)));
        return { type: "group", children };
      },
    },
  ],
};

export default function App() {
  const ref = useRef<HTMLDivElement>(null);
  useEffect(() => {
    const chart = echarts.init(ref.current!, undefined, { renderer: "svg" });
    chart.setOption(option);
    return () => chart.dispose();
  }, []);
  return <div ref={ref} style={{ position: "absolute", left: 0, top: 0, width: 3280, height: 2713, background: "#fff" }} />;
}
